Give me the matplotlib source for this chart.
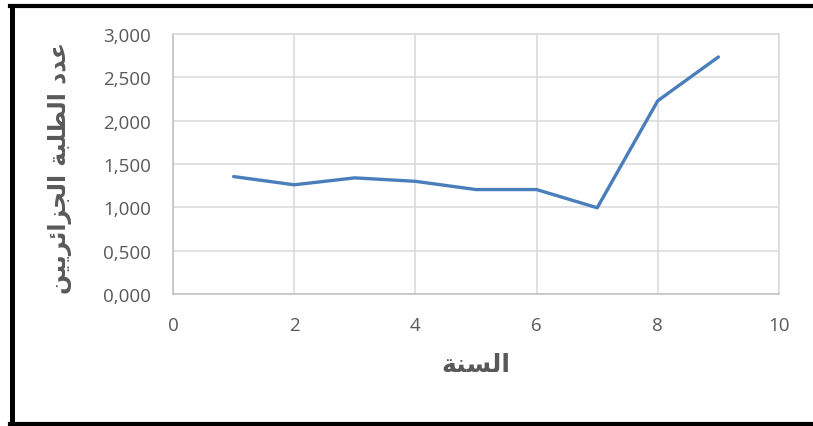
import matplotlib.pyplot as plt
from matplotlib.lines import Line2D
from matplotlib.ticker import FuncFormatter, MultipleLocator

# student counts per year (thousands)
years = [1, 2, 3, 4, 5, 6, 7, 8, 9]
students = [1.355, 1.26, 1.34, 1.30, 1.205, 1.205, 0.995, 2.23, 2.735]

# Arabic labels in presentation forms, visual order (matplotlib does no shaping)
x_label = "\uFE94\uFEE8\uFEB4\uFEDF\uFE8D"  # السنة
y_label = (
    "\uFEE6\uFEF4\uFEF3\uFEAE\uFE8B\uFE8D\uFEB0\uFEA0\uFEDF\uFE8D"  # الجزائريين
    " \uFE94\uFE92\uFEE0\uFEC4\uFEDF\uFE8D"  # الطلبة
    " \uFEA9\uFEAA\uFECB"  # عدد
)

TEXT_COLOR = "#595959"
GRID_COLOR = "#d9d9d9"
LINE_COLOR = "#4a7ebb"

plt.rcParams["font.family"] = ["Open Sans", "DejaVu Sans"]

fig = plt.figure(figsize=(8.13, 4.27), dpi=100)
ax = fig.add_axes([173 / 813, 1 - 295 / 427, 606 / 813, 260 / 427])

ax.plot(years, students, color=LINE_COLOR, linewidth=2.4, solid_capstyle="round")

ax.set_xlim(0, 10)
ax.set_ylim(0, 3)
ax.xaxis.set_major_locator(MultipleLocator(2))
ax.yaxis.set_major_locator(MultipleLocator(0.5))
ax.yaxis.set_major_formatter(FuncFormatter(lambda v, p: f"{v:.3f}".replace(".", ",")))

ax.grid(True, color=GRID_COLOR, linewidth=1.1)
ax.set_axisbelow(True)
for side, spine in ax.spines.items():
    spine.set_color(GRID_COLOR)
    spine.set_linewidth(1.1)
ax.spines["left"].set_color("#bfbfbf")
ax.spines["bottom"].set_color("#bfbfbf")

ax.tick_params(length=0, labelsize=13.5, colors=TEXT_COLOR)
ax.tick_params(axis="y", pad=16)
ax.tick_params(axis="x", pad=16)

ax.set_xlabel(x_label, family="DejaVu Sans", fontweight="bold", fontsize=18,
              color=TEXT_COLOR, labelpad=13)
fig.text(60 / 813, 1 - 168 / 427, y_label, family="DejaVu Sans", fontweight="bold",
         fontsize=17, color=TEXT_COLOR, rotation=90, ha="center", va="center")

# black frame on left, top and bottom
fig.add_artist(Line2D([11.5 / 813, 11.5 / 813], [0, 1 - 7 / 427], color="black",
                      linewidth=3.6, transform=fig.transFigure))
fig.add_artist(Line2D([9.5 / 813, 1], [1 - 7 / 427, 1 - 7 / 427], color="black",
                      linewidth=3.0, transform=fig.transFigure))
fig.add_artist(Line2D([9.5 / 813, 1], [1 - 425 / 427, 1 - 425 / 427], color="black",
                      linewidth=3.0, transform=fig.transFigure))

fig.savefig("out.png", dpi=100)
